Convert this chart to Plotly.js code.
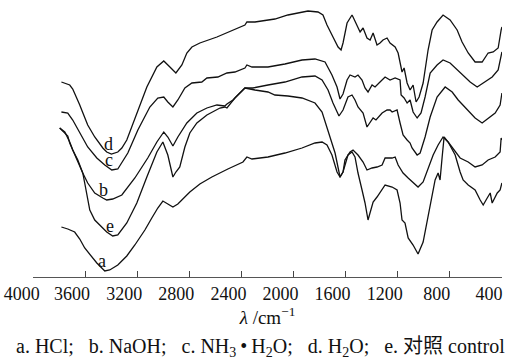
<!DOCTYPE html>
<html>
<head>
<meta charset="utf-8">
<script src="https://cdn.plot.ly/plotly-3.0.1.min.js"></script>
<style>
  html, body { margin: 0; padding: 0; background: #fff; }
  #chart { width: 515px; height: 362px; }
</style>
</head>
<body>
<div id="chart"></div>
<script>
// Wavenumber (cm-1) and relative transmittance (arbitrary units, offset spectra)
var curveNames = ["a", "b", "c", "d", "e"];
var tickValues = [4000, 3600, 3200, 2800, 2400, 2000, 1600, 1200, 800, 400];
var tickLabels = ["4000", "3600", "3200", "2800", "2400", "2000", "1600", "1200", "800", "400"];

var wnD = [3782,3756,3733,3718,3695,3680,3641,3626,3580,3526,3464,3434,3398,3349,3318,3280,3203,3126,3049,2996,2949,2903,2857,2819,2780,2719,2588,2465,2373,2358,2296,2143,2043,1889,1812,1774,1743,1697,1658,1635,1620,1589,1551,1543,1512,1489,1466,1436,1412,1389,1359,1336,1313,1282,1259,1220,1197,1167,1151,1128,1105,1082,1059,1036,1005,967,936,898,852,798,744,706,659,606,552,506,467,429,406,400];
var tD = [195,194,193,192,188,184,172,167,152,140,129,125,123,125,129,137,164,190,210,216,210,204,212,224,230,234,240,247,252,255,255,258,262,266,265,262,252,240,230,227,234,254,262,260,252,245,249,239,237,244,232,234,237,239,234,230,224,205,209,194,187,192,175,180,194,227,247,255,262,257,247,235,224,215,215,224,225,229,247,250];

var wnC = [3782,3733,3695,3641,3580,3510,3449,3395,3349,3272,3195,3103,3042,2996,2965,2926,2888,2834,2780,2704,2665,2581,2511,2450,2373,2358,2319,2196,2066,1935,1835,1758,1705,1666,1643,1620,1589,1566,1528,1505,1474,1451,1428,1397,1374,1336,1297,1259,1220,1182,1174,1151,1128,1105,1082,1051,1021,990,951,898,852,798,744,698,644,590,544,475,429,406,400];
var tC = [165,164,157,144,130,119,112,107,108,124,147,170,179,180,175,170,177,189,194,195,199,200,204,205,209,212,210,210,213,217,218,215,202,190,178,183,197,202,200,202,197,189,185,192,190,195,200,197,199,197,182,179,174,177,165,159,164,180,204,212,217,214,207,202,195,190,194,200,207,222,225];

var wnB = [3795,3756,3718,3695,3656,3618,3580,3526,3464,3434,3388,3318,3218,3119,3049,2996,2965,2926,2888,2819,2742,2665,2588,2527,2511,2465,2373,2312,2196,2066,1935,1835,1781,1735,1697,1651,1620,1582,1551,1528,1505,1466,1436,1412,1389,1367,1320,1282,1259,1243,1205,1182,1159,1128,1105,1090,1051,1028,990,951,898,836,782,736,667,606,552,506,452,414,400];
var tB = [149,145,135,127,117,104,94,84,79,77,78,82,99,119,135,145,140,131,140,154,164,169,172,171,173,177,189,189,192,195,200,201,197,187,174,161,167,180,182,177,170,164,150,154,159,157,164,167,167,165,167,154,142,137,134,129,122,124,140,160,180,190,185,177,167,159,154,159,164,172,184];

var wnE = [3795,3756,3733,3718,3695,3656,3618,3603,3580,3564,3526,3487,3434,3388,3349,3280,3203,3126,3049,3003,2965,2926,2903,2873,2834,2796,2742,2665,2565,2527,2511,2450,2373,2296,2196,2143,2043,1935,1835,1781,1735,1681,1643,1620,1582,1551,1528,1505,1474,1451,1428,1412,1389,1359,1336,1297,1243,1205,1182,1167,1144,1120,1082,1044,1005,967,913,890,875,859,844,813,759,721,698,659,606,567,544,513,490,475,436,414,400];
var tE = [149,144,141,134,127,117,104,94,80,67,57,52,45,41,42,54,74,100,125,135,122,100,105,110,130,144,154,162,169,170,169,179,189,187,185,182,181,179,174,165,147,124,100,105,122,125,120,104,87,74,57,64,75,80,84,92,90,87,74,57,54,39,32,23,35,62,97,104,97,120,140,135,122,105,97,92,87,77,72,79,84,74,84,87,94];

var wnA = [3782,3733,3680,3641,3603,3549,3510,3449,3411,3349,3280,3218,3141,3088,3042,3003,2965,2926,2888,2842,2796,2719,2627,2504,2388,2358,2319,2196,2066,1935,1835,1781,1743,1705,1666,1643,1620,1605,1566,1543,1505,1466,1436,1397,1359,1320,1297,1243,1220,1197,1159,1120,1082,1044,1005,967,928,890,852,813,759,721,659,606,552,506,452,414,406,400];
var tA = [50,48,45,38,29,20,14,6,7,12,21,32,47,59,69,76,73,70,73,79,85,93,100,108,115,120,118,120,124,129,134,135,132,122,105,100,105,117,125,127,122,115,107,109,110,112,119,119,120,112,104,99,94,90,95,109,122,132,140,135,125,119,115,110,112,117,120,125,139,137];

var captionText = "a. HCl;\u00a0\u00a0 b. NaOH;\u00a0\u00a0 c. NH<sub>3</sub>\u2009•\u2009H<sub>2</sub>O;\u00a0\u00a0 d. H<sub>2</sub>O;\u00a0\u00a0 e. 对照 control";

var series = {
  a: [wnA, tA], b: [wnB, tB], c: [wnC, tC], d: [wnD, tD], e: [wnE, tE]
};

var serif = "'Liberation Serif', 'Times New Roman', 'DejaVu Serif', 'Noto Sans CJK SC', serif";

var traces = curveNames.map(function (n) {
  return {
    x: series[n][0], y: series[n][1], type: "scatter", mode: "lines",
    name: n, line: { color: "#111", width: 1.3 }, hoverinfo: "skip"
  };
});

// label each curve just above its O-H band minimum
var annotations = curveNames.map(function (n) {
  var xs = series[n][0], ys = series[n][1];
  var best = -1;
  for (var i = 0; i < xs.length; i++) {
    if (xs[i] <= 3560 && xs[i] >= 3300 && (best < 0 || ys[i] < ys[best])) best = i;
  }
  return {
    x: xs[best], y: ys[best], xref: "x", yref: "y", text: n,
    showarrow: false, yanchor: "middle", xanchor: "center",
    xshift: -3, yshift: 10, borderpad: 0,
    font: { family: serif, size: 18, color: "#111" }
  };
});

annotations.push({
  xref: "paper", yref: "paper", x: 0.486, y: -0.256,
  xanchor: "center", yanchor: "middle", showarrow: false,
  text: captionText,
  font: { family: serif, size: 20, color: "#111" }
});

// first label nudged slightly right (it sits closer to its tick in the reference)
var tickText = tickLabels.map(function (t, i) { return i === 0 ? "\u2009" + t : t; });

var layout = {
  width: 515, height: 362,
  margin: { l: 33, r: 13, t: 0, b: 85, pad: 0 },
  paper_bgcolor: "#fff", plot_bgcolor: "#fff",
  showlegend: false,
  xaxis: {
    range: [4000, 399.5], tickmode: "array", tickvals: tickValues, ticktext: tickText,
    ticks: "inside", ticklen: 6, tickwidth: 1.2, tickcolor: "#444",
    showline: true, linecolor: "#555", linewidth: 1.4,
    showgrid: false, zeroline: false,
    ticklabelshift: 13, ticklabeloverflow: "allow",
    tickfont: { family: serif, size: 18, color: "#111" },
    title: { text: "<i>λ</i> /cm<sup>−1</sup>", font: { family: serif, size: 19, color: "#111" }, standoff: 4 }
  },
  yaxis: { visible: false, range: [0, 277], fixedrange: true },
  annotations: annotations
};

Plotly.newPlot("chart", traces, layout, { staticPlot: true, displayModeBar: false });
</script>
</body>
</html>
